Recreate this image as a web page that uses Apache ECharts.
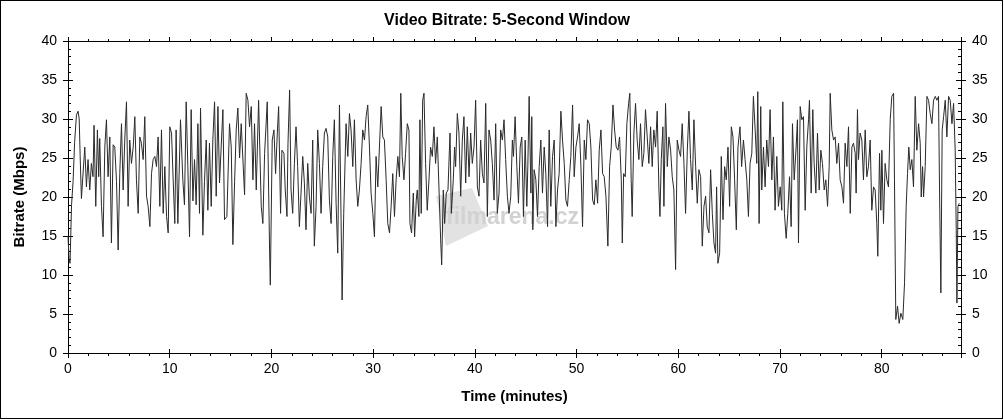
<!DOCTYPE html>
<html>
<head>
<meta charset="utf-8">
<script src="https://cdn.jsdelivr.net/npm/echarts@6/dist/echarts.min.js"></script>
<style>
  html, body { margin: 0; padding: 0; background: #fff; }
  #wrap { position: relative; width: 1004px; height: 420px; }
  #chart { width: 1004px; height: 420px; }
  #frame { position: absolute; left: 0; top: 0; width: 1003px; height: 419px; box-sizing: border-box; border: 1px solid #000; pointer-events: none; }
</style>
</head>
<body>
<div id="wrap"><div id="chart"></div><div id="frame"></div></div>
<script>
// ---- Data: [time in minutes, bitrate in Mbps] ----
const seg0to10 = [
  [0.0,15],[0.1,12],[0.2,11.5],[0.35,19],[0.5,22],[0.65,27],[0.83,30.5],[0.99,31],[1.1,30],[1.2,25],
  [1.32,19.8],[1.48,19.6],[1.65,26.4],[1.81,21.3],[1.97,24.8],[2.14,20.9],[2.3,24.3],[2.46,22.6],[2.56,29.2],[2.73,18.8],
  [2.89,28.6],[3.02,22.6],[3.12,27.5],[3.29,18.8],[3.45,14.9],[3.62,26.4],[3.78,29.9],[3.94,22.6],[4.11,27.7],[4.27,14.1],
  [4.44,26.7],[4.6,26.4],[4.77,22],[4.93,13.2],[5.09,23],[5.26,29.4],[5.42,20.9],[5.58,27.3],[5.75,32.2],[5.91,18.8],
  [6.07,27.3],[6.24,24.3],[6.41,26.4],[6.57,30.3],[6.73,22.2],[6.9,17.9],[7.06,27.7],[7.22,26.9],[7.39,24.8],[7.55,30.3],
  [7.72,20.1],[7.88,18.8],[8.05,16.2],[8.21,23],[8.37,24.8],[8.54,25.2],[8.7,23.9],[8.86,27.7],[9.03,18.8],[9.19,28.6],
  [9.36,17.9],[9.52,23.9],[9.69,17.5],[9.85,15.4],[10.01,29],[10.18,28.2],[10.34,22.2],[10.5,16.6]
];
const seg10to21 = [
  [10.63,28.6],[10.8,16.6],[11.06,29.9],[11.29,22.2],[11.45,19],[11.62,32.2],[11.78,24],[11.95,14.9],[12.11,31.2],[12.28,19.5],
  [12.44,24.8],[12.6,19],[12.77,29.4],[12.93,17.9],[13.03,31.4],[13.26,15.1],[13.42,22],[13.59,27.3],[13.75,18.3],[13.91,26.9],
  [14.08,18.8],[14.24,27.3],[14.41,32.2],[14.57,20.1],[14.74,31.6],[14.9,21.8],[15.06,26.4],[15.23,31.2],[15.39,17.1],[15.62,17.5],
  [15.88,29.4],[16.05,26.4],[16.21,13.9],[16.38,22],[16.54,28.6],[16.7,31.4],[16.87,25],[17.03,29.4],[17.2,29.4],[17.36,20.3],
  [17.52,33.3],[17.69,32.4],[17.85,29],[18.02,31.6],[18.18,22.2],[18.34,29.4],[18.51,20.9],[18.74,32.4],[19.0,18.8],[19.16,16.6],
  [19.33,25.6],[19.59,32.2],[19.82,13.2],[19.89,8.7],[20.08,27.3],[20.25,28.6],[20.41,23],[20.58,28.2],[20.71,31.6],[20.9,17.9],
  [21.03,26],[21.23,25.6],[21.36,20.9],[21.53,17.5],[21.63,26.9],[21.79,33.7]
];
const seg21to33 = [
  [21.93,20.9],[22.09,17.9],[22.26,24.3],[22.42,29],[22.58,23.9],[22.75,16.2],[22.91,20.5],[23.08,25.2],[23.24,21.8],[23.4,15.8],
  [23.57,24.3],[23.73,20.1],[23.9,17.9],[24.06,27.3],[24.22,13.7],[24.39,18.8],[24.55,28.6],[24.72,24.3],[24.88,17.9],[25.04,23.9],
  [25.21,28.2],[25.37,28.8],[25.54,27.7],[25.7,19.6],[25.87,16.6],[26.03,25.2],[26.19,29.9],[26.36,19.2],[26.52,12.8],[26.69,31.8],
  [26.85,17.1],[26.95,6.8],[27.11,17.9],[27.34,29.4],[27.51,25.2],[27.67,30.7],[27.83,28.6],[28.0,23.9],[28.16,29.9],[28.33,22.2],
  [28.49,18.8],[28.65,20.9],[28.82,24.3],[28.98,28.6],[29.15,27.3],[29.31,30.3],[29.47,31.8],[29.64,26.4],[29.8,20.5],[29.97,17.9],
  [30.13,14.9],[30.29,25.2],[30.46,21.3],[30.62,26.4],[30.79,31.6],[30.95,27.7],[31.11,27.3],[31.28,22.2],[31.44,16.6],[31.61,15.4],
  [31.77,18.8],[31.93,23],[32.1,17.5],[32.26,22.2],[32.43,25.2],[32.59,22.6],[32.72,33.3]
];
const seg33to44 = [
  [32.86,25.2],[33.03,22.2],[33.19,25.6],[33.36,29.4],[33.52,28.6],[33.62,16.6],[33.78,15.4],[33.95,20.5],[34.08,14.9],[34.24,19.6],
  [34.34,20.9],[34.5,17.5],[34.6,29.9],[34.73,17.9],[34.87,32.4],[35.0,33.3],[35.16,24.3],[35.32,18.3],[35.49,22.2],[35.65,26.4],
  [35.82,25.2],[35.98,29],[36.14,24.3],[36.31,27.7],[36.47,21.3],[36.64,14.5],[36.74,11.3],[36.9,20.9],[37.03,16.6],[37.19,20.5],
  [37.36,20.9],[37.56,28.2],[37.69,17.9],[37.88,22.2],[38.01,26.4],[38.11,23.9],[38.28,30.7],[38.44,28.2],[38.61,20.1],[38.77,27.3],
  [38.93,30.3],[39.1,21.8],[39.26,29],[39.43,22.6],[39.59,28.2],[39.75,24.3],[39.92,26.4],[40.08,32.4],[40.25,21.3],[40.41,20.1],
  [40.57,27.3],[40.74,23],[40.9,21.8],[41.07,32],[41.23,17.5],[41.39,28.6],[41.56,27.3],[41.72,24.3],[41.89,19.6],[42.05,29.4],
  [42.21,17.9],[42.38,20.5],[42.54,28.6],[42.71,27.3],[42.87,29.9],[43.03,24.8],[43.2,20.1],[43.36,17.9],[43.53,20.1],[43.69,27.3],
  [43.8,25.2]
];
const seg44to55 = [
  [43.96,30.3],[44.13,23.9],[44.29,19.2],[44.46,26.4],[44.62,27.7],[44.78,17.5],[44.95,27.3],[45.11,18.8],[45.21,23.9],[45.34,32.9],
  [45.51,20.5],[45.6,30.3],[45.7,15.8],[45.83,23.5],[46.0,22.2],[46.16,17.5],[46.33,23.9],[46.49,27.3],[46.65,20.5],[46.82,26.4],
  [46.98,23],[47.15,16.2],[47.31,28.6],[47.47,18.8],[47.64,25.2],[47.8,27.3],[47.97,16.2],[48.13,20.9],[48.29,23],[48.46,31],
  [48.62,27.3],[48.79,24.3],[48.95,19.6],[49.11,18.8],[49.28,22.2],[49.44,25.2],[49.61,31.8],[49.77,22.6],[49.94,26.4],[50.1,27.7],
  [50.26,29.4],[50.43,23.9],[50.59,16.2],[50.76,27.3],[50.92,24.8],[51.08,29.9],[51.25,29.4],[51.41,26.4],[51.58,19.6],[51.74,19],
  [51.9,22.2],[52.07,19.2],[52.23,26],[52.4,28.6],[52.56,23],[52.72,22.6],[52.89,20.1],[53.08,13.7],[53.25,23.9],[53.41,26.4],
  [53.58,31.8],[53.74,28.6],[53.9,26.4],[54.07,26],[54.23,27.7],[54.4,22.2],[54.5,14.1],[54.63,23],[54.79,22.6],[54.95,29.4],
  [55.12,32]
];
const seg55to66 = [
  [55.24,33.3],[55.37,22.2],[55.47,17.5],[55.64,28.2],[55.8,32],[55.96,27.3],[56.13,24.8],[56.29,29.4],[56.46,23.9],[56.62,25.6],
  [56.78,31.2],[56.95,27.7],[57.11,24.3],[57.28,29],[57.44,23.9],[57.6,28.6],[57.77,26.4],[57.93,31],[58.1,20.9],[58.2,17.5],
  [58.33,24.8],[58.49,29],[58.59,18.8],[58.75,32],[58.92,23.9],[59.08,27.7],[59.25,26],[59.41,22.6],[59.57,20.9],[59.74,10.7],
  [59.9,27.3],[60.07,26],[60.23,25.2],[60.39,29.4],[60.56,24.3],[60.72,17.9],[60.89,26],[61.05,31],[61.21,24.8],[61.38,20.9],
  [61.54,29.9],[61.71,23.9],[61.87,19.2],[62.03,23.5],[62.2,22.6],[62.36,13.7],[62.53,18.8],[62.69,20.1],[62.85,16.2],[63.02,15.4],
  [63.18,23.5],[63.35,17.9],[63.51,14.1],[63.67,12.8],[63.77,21.3],[63.9,11.5],[64.07,12.8],[64.23,25.2],[64.4,17.1],[64.56,23.9],
  [64.72,22.2],[64.89,26.4],[65.05,18.8],[65.22,29],[65.38,27.7],[65.54,22.2],[65.71,15.8],[65.87,26.4],[66.07,29],[66.23,23.9]
];
const seg66to77 = [
  [66.41,27.3],[66.57,24.8],[66.74,22.2],[66.9,17.5],[67.06,24.3],[67.23,25.6],[67.39,32.9],[67.56,28.6],[67.72,24.3],[67.82,33.5],
  [67.95,16.6],[68.11,31.6],[68.21,20.9],[68.38,26.4],[68.54,21.3],[68.7,27.3],[68.87,23.9],[69.03,31.2],[69.2,22.2],[69.36,27.7],
  [69.52,18.3],[69.69,25.2],[69.85,18.8],[70.02,21.3],[70.18,18.3],[70.28,32.2],[70.44,17.9],[70.61,14.7],[70.77,17.9],[70.94,22.6],
  [71.1,16.2],[71.23,29.4],[71.4,22.2],[71.59,26.4],[71.72,29.9],[71.82,14.1],[71.99,31.6],[72.15,29.9],[72.31,30.3],[72.48,18.3],
  [72.64,26.4],[72.81,29.9],[72.9,32.4],[73.07,20.5],[73.23,31.2],[73.36,24.3],[73.53,20.5],[73.69,28.2],[73.86,20.9],[74.02,26],
  [74.18,24.3],[74.35,20.9],[74.51,22.2],[74.68,18.8],[74.84,23.9],[74.94,33.3],[75.1,28.6],[75.27,27.3],[75.43,27.7],[75.59,24.3],
  [75.76,26.9],[75.92,22.2],[76.09,21.3],[76.25,19.2],[76.41,26.9],[76.58,23.9],[76.74,29],[76.91,17.9],[77.07,26.4],[77.23,26.9],
  [77.4,25.6]
];
const seg77to88 = [
  [77.49,20.5],[77.62,31.2],[77.72,24.8],[77.88,28.2],[78.05,27.3],[78.21,22.2],[78.38,28.6],[78.54,22.6],[78.7,23.9],[78.87,27.3],
  [79.03,18.3],[79.2,21.3],[79.36,20.9],[79.52,16.6],[79.62,12.4],[79.79,25.6],[79.92,18.3],[80.02,26],[80.18,16.6],[80.34,24.3],
  [80.51,22.2],[80.67,21.3],[80.84,29.9],[81.0,32.9],[81.17,33.3],[81.26,22.2],[81.39,4.3],[81.56,6],[81.72,3.8],[81.89,5.1],
  [82.08,4.3],[82.25,9],[82.41,18.8],[82.54,23],[82.67,26.4],[82.81,23.5],[82.97,24.8],[83.13,21.3],[83.3,32.9],[83.46,26],
  [83.63,29.4],[83.79,26.9],[83.89,20],[84.02,23.9],[84.12,20],[84.28,23.9],[84.45,32.9],[84.61,32.4],[84.77,30.7],[84.94,29.4],
  [85.1,32.4],[85.27,32.9],[85.43,32.4],[85.59,32.9],[85.69,20.9],[85.82,7.7],[85.95,28.6],[86.09,30.3],[86.25,32.4],[86.41,27.7],
  [86.58,32.9],[86.74,32.4],[86.91,29.4],[87.07,32],[87.23,26],[87.33,15.8],[87.4,6.4],[87.5,18.8],[87.63,19.2]
];

const xTicksMinutes = [0, 10, 20, 30, 40, 50, 60, 70, 80];
const yTicksMbps = [0, 5, 10, 15, 20, 25, 30, 35, 40];

const titleText = 'Video Bitrate: 5-Second Window';
const xName = 'Time (minutes)';
const yName = 'Bitrate (Mbps)';

const bitrate = [].concat(seg0to10, seg10to21, seg21to33, seg33to44, seg44to55, seg55to66, seg66to77, seg77to88);

// ---- Chart ----
const FONT = '"Liberation Sans Narrow", "Liberation Sans", Arial, sans-serif';
const xMin = xTicksMinutes[0];
const xStep = xTicksMinutes[1] - xTicksMinutes[0];
const xMax = 87.8;
const yMin = yTicksMbps[0];
const yMax = yTicksMbps[yTicksMbps.length - 1];
const yStep = yTicksMbps[1] - yTicksMbps[0];
const axisLine = { show: true, onZero: false, lineStyle: { color: '#000', width: 1 } };
const labelStyle = { color: '#000', fontSize: 14, fontFamily: FONT };

function xAx(extra) {
  return Object.assign({
    type: 'value', min: xMin, max: xMax, interval: xStep,
    axisLine: axisLine, splitLine: { show: false },
    axisLabel: { show: false }, axisTick: { show: false }
  }, extra);
}
function yAx(extra) {
  return Object.assign({
    type: 'value', min: yMin, max: yMax, interval: yStep,
    axisLine: axisLine, splitLine: { show: false },
    axisLabel: { show: false }, axisTick: { show: false }
  }, extra);
}

const chart = echarts.init(document.getElementById('chart'), null, { renderer: 'canvas' });
chart.setOption({
  animation: false,
  backgroundColor: '#fff',
  title: {
    text: titleText, left: 502, top: 8, textAlign: 'center',
    textStyle: { fontFamily: FONT, fontSize: 16, fontWeight: 'bold', color: '#000' }
  },
  grid: { left: 68, right: 43, top: 41, bottom: 67, containLabel: false },
  xAxis: [
    xAx({
      position: 'bottom',
      axisLabel: Object.assign({ show: true, margin: 9, showMaxLabel: false,
        formatter: v => (xTicksMinutes.indexOf(v) >= 0 ? String(v) : '') }, labelStyle),
      axisTick: { show: true, length: 5, lineStyle: { color: '#000' } },
      minorTick: { show: true, splitNumber: 5, length: 3, lineStyle: { color: '#000' } },
      name: xName, nameLocation: 'middle', nameGap: 36,
      nameTextStyle: { fontFamily: FONT, fontSize: 15, fontWeight: 'bold', color: '#000' }
    }),
    xAx({ position: 'bottom', axisTick: { show: true, inside: true, length: 4, lineStyle: { color: '#000' } } }),
    xAx({ position: 'top',
      axisTick: { show: true, length: 4, lineStyle: { color: '#000' } },
      minorTick: { show: true, splitNumber: 5, length: 2, lineStyle: { color: '#000' } } })
  ],
  yAxis: [
    yAx({
      position: 'left',
      axisLabel: Object.assign({ show: true, margin: 11 }, labelStyle),
      axisTick: { show: true, length: 5, lineStyle: { color: '#000' } },
      name: yName, nameLocation: 'middle', nameGap: 41, nameRotate: 90,
      nameTextStyle: { fontFamily: FONT, fontSize: 15, fontWeight: 'bold', color: '#000' }
    }),
    yAx({ position: 'left',
      axisTick: { show: true, inside: true, length: 5, lineStyle: { color: '#000' } },
      minorTick: { show: true, splitNumber: 5, length: 3, lineStyle: { color: '#000' } } }),
    yAx({
      position: 'right',
      axisLabel: Object.assign({ show: true, margin: 11 }, labelStyle),
      axisTick: { show: true, length: 5, lineStyle: { color: '#000' } }
    }),
    yAx({ position: 'right',
      axisTick: { show: true, inside: true, length: 5, lineStyle: { color: '#000' } },
      minorTick: { show: true, splitNumber: 5, length: 3, lineStyle: { color: '#000' } } })
  ],
  graphic: [
    { type: 'polygon', z: -10, silent: true,
      shape: { points: [[436, 196], [472, 188], [488, 226], [446, 246]] },
      style: { fill: '#e2e2e2' } },
    { type: 'text', z: -9, silent: true, left: 446, top: 206,
      style: { text: 'filmarena.cz', fill: '#d2d2d2', font: 'bold 23px "Liberation Sans", Arial, sans-serif' } }
  ],
  series: [{
    type: 'line', xAxisIndex: 0, yAxisIndex: 0,
    data: bitrate, showSymbol: false, symbol: 'none', sampling: null,
    lineStyle: { color: '#2a2a2a', width: 1 }, z: 5
  }]
});
</script>
</body>
</html>
